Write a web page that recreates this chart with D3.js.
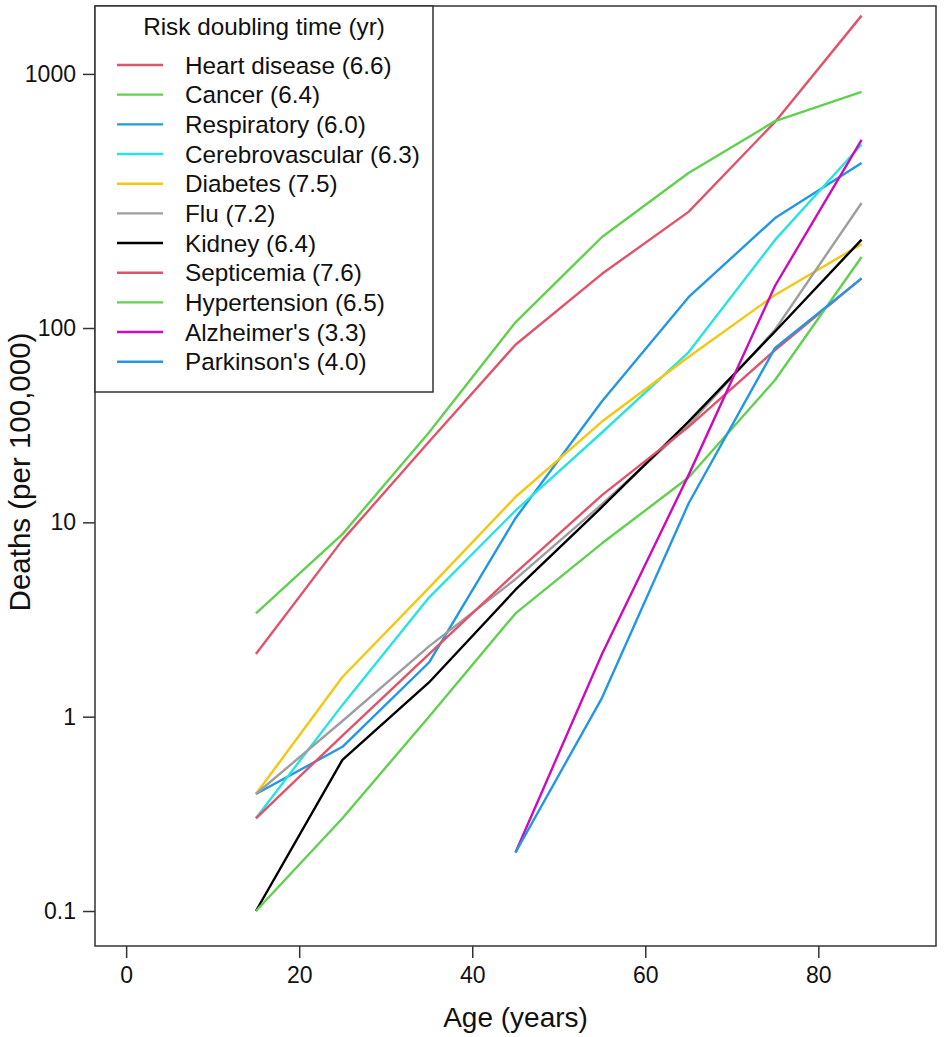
<!DOCTYPE html>
<html>
<head>
<meta charset="utf-8">
<script src="https://cdn.jsdelivr.net/npm/d3@7"></script>
<style>
  body { margin: 0; background: #fff; }
  svg { display: block; font-family: "Liberation Sans", Arial, Helvetica, sans-serif; }
</style>
</head>
<body>
<div id="chart"></div>
<script>
// age groups (midpoints)
const ages = [15, 25, 35, 45, 55, 65, 75, 85]

// deaths per 100,000
const heart        = [2.1, 8.1, 26, 82, 190, 396, 1150, 4050]
const cancer       = [3.4, 8.7, 29, 107, 294, 628, 1160, 1640]
const respiratory  = [0.4, 0.7, 1.9, 10.5, 42, 144, 368, 706]
const cerebro      = [0.3, 1.15, 4.1, 11.5, 29, 75, 284, 880]
const diabetes     = [0.4, 1.6, 4.6, 13.5, 33, 71, 148, 270]
const flu          = [0.4, 0.95, 2.3, 5.1, 12.4, 31.6, 98, 440]
const kidney       = [0.1, 0.6, 1.5, 4.5, 12, 33, 96, 285]
const septicemia   = [0.3, 0.8, 2.1, 5.5, 13.8, 31, 77, 180]
const hypertension = [0.1, 0.3, 1.0, 3.4, 7.8, 17, 54, 232]
const alzheimers   = [null, null, null, 0.2, 2.1, 17.5, 165, 930]
const parkinsons   = [null, null, null, 0.2, 1.25, 12.5, 79, 180]

const seriesNames = ["Heart disease (6.6)", "Cancer (6.4)", "Respiratory (6.0)", "Cerebrovascular (6.3)",
  "Diabetes (7.5)", "Flu (7.2)", "Kidney (6.4)", "Septicemia (7.6)", "Hypertension (6.5)",
  "Alzheimer's (3.3)", "Parkinson's (4.0)"]
const seriesValues = [heart, cancer, respiratory, cerebro, diabetes, flu, kidney, septicemia,
  hypertension, alzheimers, parkinsons]
const seriesColors = ["#DF536B", "#61D04F", "#2297E6", "#28E2E5", "#F5C710", "#9E9E9E", "#000000",
  "#DF536B", "#61D04F", "#CD0BBC", "#2297E6"]

const xTicks = [0, 20, 40, 60, 80]
// the reference puts its "1000" label higher than the true 1000 line, so it is placed where it sits
const yTickValues = [0.1, 1, 10, 100, 2030]
const yTickLabels = ["0.1", "1", "10", "100", "1000"]

const W = 945, H = 1037
const box = {left: 95, right: 936, top: 6, bottom: 946}

const svg = d3.select("#chart").append("svg")
    .attr("width", W)
    .attr("height", H)

const x = d3.scaleLinear()
    .domain([-3.6, 93.6])
    .range([box.left, box.right])

const y = d3.scaleLog()
    .domain([Math.pow(10, -1.18), Math.pow(10, 3.657)])
    .range([box.bottom, box.top])

// axes
const xAxis = svg.append("g")
    .attr("transform", `translate(0,${box.bottom})`)
    .call(d3.axisBottom(x).tickValues(xTicks).tickSize(12).tickPadding(9).tickFormat(d3.format("d")))
xAxis.select(".domain").remove()

const yAxis = svg.append("g")
    .attr("transform", `translate(${box.left},0)`)
    .call(d3.axisLeft(y).tickValues(yTickValues).tickSize(12).tickPadding(7)
        .tickFormat((d, i) => yTickLabels[i]))
yAxis.select(".domain").remove()

svg.selectAll(".tick line").attr("stroke", "#333").attr("stroke-width", 1.5)
svg.selectAll(".tick text").attr("fill", "#111").style("font-size", "23px")

// lines
const line = d3.line()
    .defined(d => d.v != null)
    .x(d => x(d.age))
    .y(d => y(d.v))

svg.append("g")
    .selectAll("path")
    .data(seriesValues.map((vals, i) => ({color: seriesColors[i], pts: ages.map((a, j) => ({age: a, v: vals[j]}))})))
    .join("path")
        .attr("d", d => line(d.pts))
        .attr("fill", "none")
        .attr("stroke", d => d.color)
        .attr("stroke-width", 2.4)
        .attr("stroke-linejoin", "round")

// plot frame
svg.append("rect")
    .attr("x", box.left)
    .attr("y", box.top)
    .attr("width", box.right - box.left)
    .attr("height", box.bottom - box.top)
    .attr("fill", "none")
    .attr("stroke", "#333")
    .attr("stroke-width", 1.5)

// legend
const lg = svg.append("g")
lg.append("rect")
    .attr("x", box.left)
    .attr("y", box.top)
    .attr("width", 433 - box.left)
    .attr("height", 392 - box.top)
    .attr("fill", "#fff")
    .attr("stroke", "#333")
    .attr("stroke-width", 1.5)

lg.append("text")
    .attr("x", (box.left + 433) / 2)
    .attr("y", 35)
    .attr("text-anchor", "middle")
    .style("font-size", "24.3px")
    .attr("fill", "#111")
    .text("Risk doubling time (yr)")

const rowY = i => 65 + i * 29.67
const items = lg.selectAll("g.item")
    .data(seriesNames)
    .join("g")
        .attr("class", "item")
        .attr("transform", (d, i) => `translate(0,${rowY(i)})`)
items.append("line")
    .attr("x1", 117).attr("x2", 163)
    .attr("stroke", (d, i) => seriesColors[i])
    .attr("stroke-width", 2.4)
items.append("text")
    .attr("x", 185)
    .attr("dy", "0.35em")
    .style("font-size", "24.3px")
    .attr("fill", "#111")
    .text(d => d)

// axis titles
svg.append("text")
    .attr("x", (box.left + box.right) / 2)
    .attr("y", 1027)
    .attr("text-anchor", "middle")
    .style("font-size", "28px")
    .attr("fill", "#111")
    .text("Age (years)")

svg.append("text")
    .attr("transform", `translate(30,${(box.top + box.bottom) / 2 - 4}) rotate(-90)`)
    .attr("text-anchor", "middle")
    .style("font-size", "29.5px")
    .attr("fill", "#111")
    .text("Deaths (per 100,000)")
</script>
</body>
</html>
